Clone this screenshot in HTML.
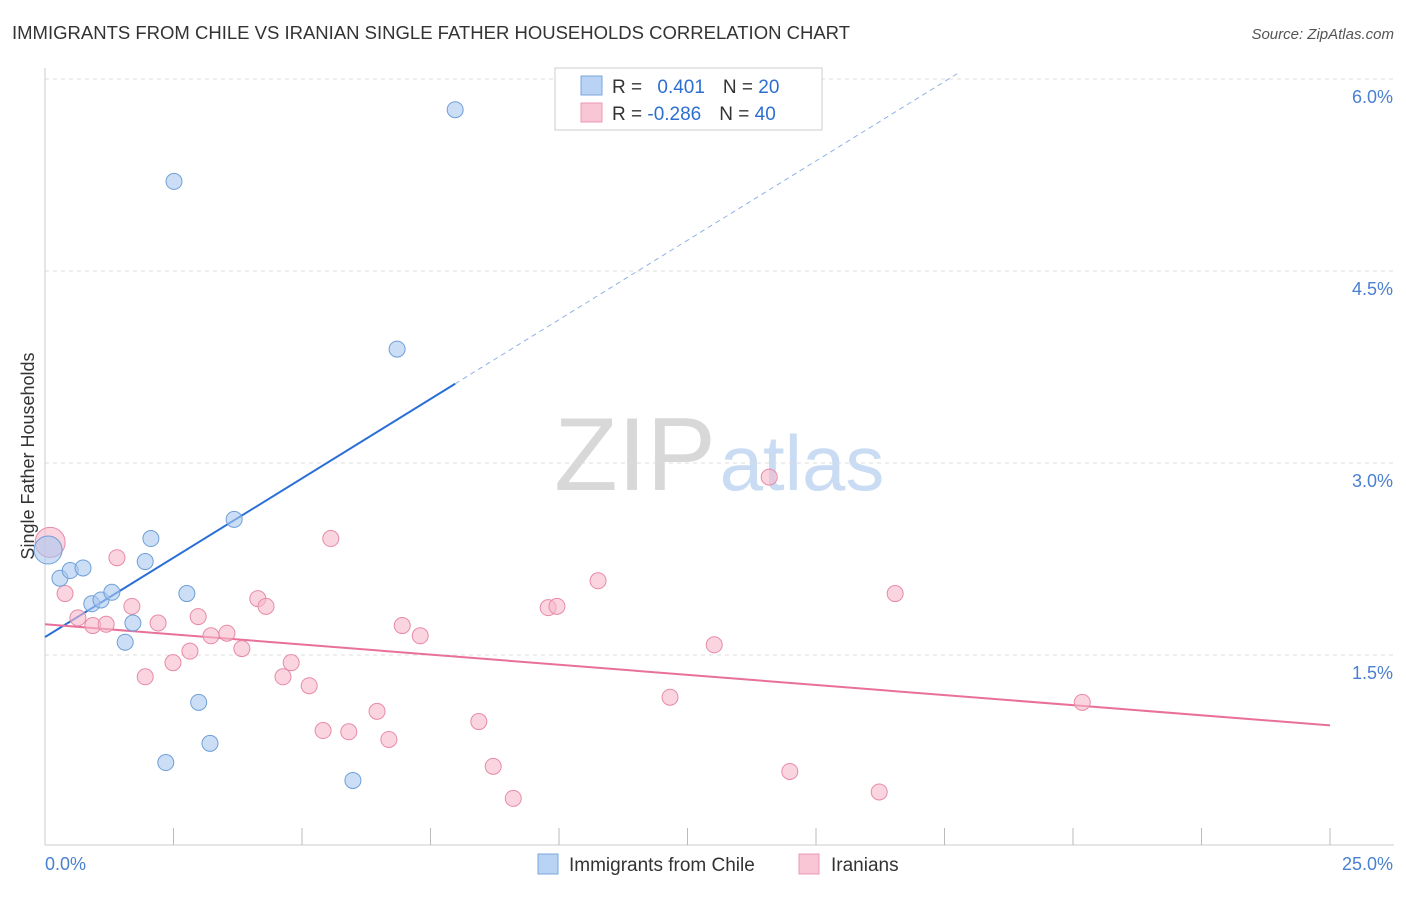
<!DOCTYPE html>
<html><head><meta charset="utf-8">
<style>
body{margin:0;background:#fff;font-family:"Liberation Sans",sans-serif;}
svg text{font-family:"Liberation Sans",sans-serif;}
</style></head>
<body>
<svg id="c" width="1406" height="892" viewBox="0 0 1406 892" xmlns="http://www.w3.org/2000/svg">
<text x="12" y="39" font-size="18" fill="#333" textLength="838" lengthAdjust="spacingAndGlyphs">IMMIGRANTS FROM CHILE VS IRANIAN SINGLE FATHER HOUSEHOLDS CORRELATION CHART</text>
<text x="1394" y="39" font-size="15" fill="#555" font-style="italic" text-anchor="end">Source: ZipAtlas.com</text>
<text x="0" y="0" font-size="18" fill="#333" transform="translate(34,456) rotate(-90)" text-anchor="middle">Single Father Households</text>
<g>
<text x="635" y="490" font-size="104" font-family="Liberation Serif" fill="#d8d8d8" text-anchor="middle">ZIP</text>
<text x="802" y="490" font-size="78" fill="#c9dcf3" text-anchor="middle">atlas</text>
</g>
<g id="grid"></g><g id="lines"></g><g id="pts"></g>
<g>
<rect x="555" y="68" width="267" height="62" fill="#fff" stroke="#ccc"/>
<rect x="581" y="76" width="21" height="19" fill="#b9d3f5" stroke="#7aa6dc"/>
<rect x="581" y="103" width="21" height="19" fill="#f9c6d5" stroke="#eb98b2"/>
<text x="612" y="93" font-size="19" fill="#333">R = <tspan fill="#2d6fd1" dx="10">0.401</tspan><tspan dx="18" fill="#333">N = </tspan><tspan fill="#2d6fd1">20</tspan></text>
<text x="612" y="120" font-size="19" fill="#333">R = <tspan fill="#2d6fd1">-0.286</tspan><tspan dx="18" fill="#333">N = </tspan><tspan fill="#2d6fd1">40</tspan></text>
</g>
<g>
<rect x="538" y="854" width="20" height="20" fill="#b9d3f5" stroke="#7aa6dc"/>
<text x="569" y="871" font-size="19" fill="#333">Immigrants from Chile</text>
<rect x="799" y="854" width="20" height="20" fill="#f9c6d5" stroke="#eb98b2"/>
<text x="831" y="871" font-size="19" fill="#333">Iranians</text>
</g>
</svg>
<script>
const yTicks=[1.5,3.0,4.5,6.0];
const xTickLabels=["0.0%","25.0%"];
const blueX=[0.06,0.29,0.49,0.74,0.91,1.09,1.30,1.56,1.71,1.95,2.06,2.35,2.51,2.76,2.99,3.21,3.68,5.99,6.85,7.98];
const blueY=[2.32,2.10,2.16,2.18,1.90,1.93,1.99,1.60,1.75,2.23,2.41,0.66,5.20,1.98,1.13,0.81,2.56,0.52,3.89,5.76];
const pinkX=[0.10,0.39,0.64,0.93,1.19,1.40,1.69,1.95,2.20,2.49,2.82,2.98,3.23,3.54,3.83,4.14,4.30,4.63,4.79,5.14,5.41,5.56,5.91,6.46,6.69,6.95,7.30,8.44,8.72,9.11,9.79,9.96,10.76,12.16,13.02,14.09,14.49,16.23,16.54,20.18];
const pinkY=[2.38,1.98,1.79,1.73,1.74,2.26,1.88,1.33,1.75,1.44,1.53,1.80,1.65,1.67,1.55,1.94,1.88,1.33,1.44,1.26,0.91,2.41,0.90,1.06,0.84,1.73,1.65,0.98,0.63,0.38,1.87,1.88,2.08,1.17,1.58,2.89,0.59,0.43,1.98,1.13];
const blueTrend=[1.64,0.248];
const pinkTrend=[1.74,-0.0316];
const NS="http://www.w3.org/2000/svg";
const X=v=>45+v*1285/25, Y=v=>847-v*128;
function mk(t,a,p){const e=document.createElementNS(NS,t);for(const k in a)e.setAttribute(k,a[k]);p.appendChild(e);return e;}
const g=document.getElementById('grid');
const yAxis=mk('line',{x1:45,y1:68,x2:45,y2:845,stroke:'#ccc'},g);


const xAxis=mk('line',{x1:45,y1:845,x2:1394,y2:845,stroke:'#ccc'},g);


yTicks.forEach(t=>{
 const l=mk('line',{x1:45,y1:Y(t),x2:1394,y2:Y(t),stroke:'#ddd','stroke-dasharray':'4,4'},g);
 
 
 const tx=mk('text',{x:1393,y:Y(t)+24,'font-size':18,fill:'#4a80d0','text-anchor':'end'},g);
 tx.textContent=t.toFixed(1)+'%';
 
 
});
for(let i=1;i<=10;i++){const v=i*2.5;
 const l=mk('line',{x1:X(v),y1:828,x2:X(v),y2:845,stroke:'#bbb'},g);
 
 }
const xl0=mk('text',{x:45,y:870,'font-size':18,fill:'#4a80d0'},g);xl0.textContent=xTickLabels[0];


const xl1=mk('text',{x:1393,y:870,'font-size':18,fill:'#4a80d0','text-anchor':'end'},g);xl1.textContent=xTickLabels[1];


const L=document.getElementById('lines');
const bx=Math.max(...blueX);
const b1=mk('line',{x1:X(0),y1:Y(blueTrend[0]),x2:X(bx),y2:Y(blueTrend[0]+blueTrend[1]*bx),stroke:'#2a6fd6','stroke-width':2},L);


const xe=17.8;
const b2=mk('line',{x1:X(bx),y1:Y(blueTrend[0]+blueTrend[1]*bx),x2:X(xe),y2:Y(blueTrend[0]+blueTrend[1]*xe),stroke:'#8fb2e6','stroke-width':1,'stroke-dasharray':'5,4'},L);


const p1=mk('line',{x1:X(0),y1:Y(pinkTrend[0]),x2:X(25),y2:Y(pinkTrend[0]+pinkTrend[1]*25),stroke:'#e8709a','stroke-width':2},L);


const P=document.getElementById('pts');
pinkX.forEach((v,i)=>{const c=mk('circle',{cx:X(v),cy:Y(pinkY[i]),r:i==0?15:8,fill:'#f7b9cc','fill-opacity':0.6,stroke:'#e88aa8','stroke-width':1},P);
 
 });
blueX.forEach((v,i)=>{const c=mk('circle',{cx:X(v),cy:Y(blueY[i]),r:i==0?14:8,fill:'#a9c8f0','fill-opacity':0.6,stroke:'#6f9fd8','stroke-width':1},P);
 
 });
</script>
</body></html>
